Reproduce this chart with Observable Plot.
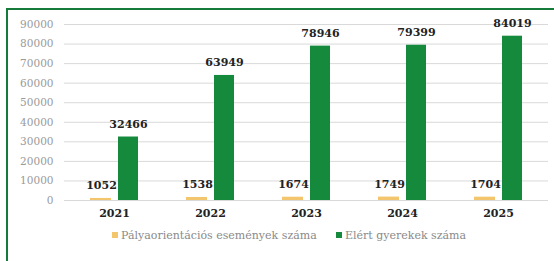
<!DOCTYPE html>
<html>
<head>
<meta charset="utf-8">
<script src="https://cdn.jsdelivr.net/npm/d3@7"></script>
<script src="https://cdn.jsdelivr.net/npm/@observablehq/plot@0.6"></script>
<style>
  html, body { margin: 0; padding: 0; background: #fff; overflow: hidden; }
  #wrap { position: relative; width: 554px; height: 261px; }
  #frame { position: absolute; left: 6px; top: 8px; width: 600px; height: 300px;
           border-left: 2px solid #157a3a; border-top: 2px solid #157a3a; pointer-events: none; }
  #legend { position: absolute; left: 0; top: 229px; width: 554px;
            font-family: "DejaVu Serif", serif;
            font-size: 11px; color: #8a8a8a; }
  .item { position: absolute; top: 0; white-space: nowrap; }
  .sw { display: inline-block; width: 6px; height: 6px; margin-right: 3px; vertical-align: 1px; }
  svg text { font-family: "DejaVu Serif", serif !important; }
</style>
</head>
<body>
<div id="wrap">
  <div id="chart"></div>
  <div id="legend"></div>
  <div id="frame"></div>
</div>
<script>
const years = ["2021", "2022", "2023", "2024", "2025"];
const events = [1052, 1538, 1674, 1749, 1704];
const children = [32466, 63949, 78946, 79399, 84019];
const seriesNames = ["Pályaorientációs események száma", "Elért gyerekek száma"];
const seriesColors = ["#f3c56c", "#158a3c"];
const yTicks = [0, 10000, 20000, 30000, 40000, 50000, 60000, 70000, 80000, 90000];

const evData = years.map((y, i) => ({year: y, value: events[i]}));
const chData = years.map((y, i) => ({year: y, value: children[i]}));

const serif = "DejaVu Serif";
const valueFont = {fontFamily: serif, fontSize: 11, fontWeight: "bold", fill: "#222"};

const chart = Plot.plot({
  width: 554,
  height: 226,
  marginLeft: 64,
  marginRight: 6,
  marginTop: 24,
  marginBottom: 26,
  style: {fontFamily: serif, background: "transparent"},
  x: {domain: years, paddingInner: 0.5, paddingOuter: 0.25, label: null, tickSize: 0, tickPadding: 9},
  y: {domain: [0, 90000], label: null, ticks: yTicks, tickSize: 0, tickPadding: 11, tickFormat: d => String(d)},
  marks: [
    Plot.ruleY(yTicks, {stroke: "#d9d9d9", strokeWidth: 1}),
    Plot.barY(evData, {x: "year", y: "value", fill: seriesColors[0], insetLeft: 0, insetRight: 27}),
    Plot.barY(chData, {x: "year", y: "value", fill: seriesColors[1], insetLeft: 28, insetRight: 0}),
    Plot.text(evData, {x: "year", y: "value", text: d => String(d.value), dx: -13, dy: -13, ...valueFont}),
    Plot.text(chData, {x: "year", y: "value", text: d => String(d.value), dx: 14, dy: -13, ...valueFont}),
    Plot.axisY({ticks: yTicks, tickSize: 0, tickPadding: 11, tickFormat: d => String(d), fill: "#9a9a9a", fontSize: 10.5, label: null}),
    Plot.axisX({tickSize: 0, tickPadding: 9, fontSize: 11, fontWeight: "bold", fill: "#222", label: null})
  ]
});
document.getElementById("chart").appendChild(chart);

const legend = document.getElementById("legend");
const lefts = [112, 336];
seriesNames.forEach((name, i) => {
  const it = document.createElement("span");
  it.className = "item";
  it.style.left = lefts[i] + "px";
  it.innerHTML = `<span class="sw" style="background:${seriesColors[i]}"></span>${name}`;
  legend.appendChild(it);
});
</script>
</body>
</html>
